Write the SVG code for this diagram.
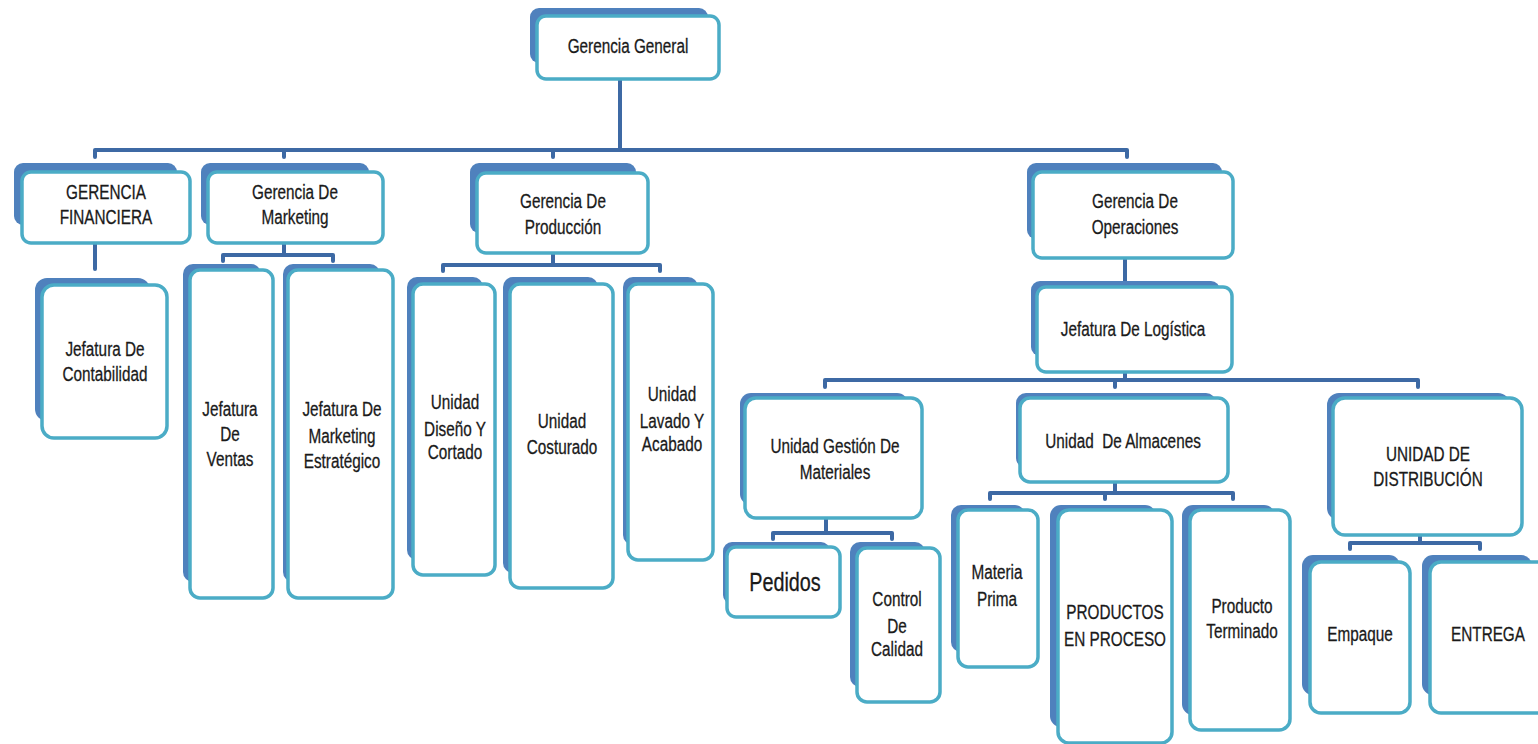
<svg xmlns="http://www.w3.org/2000/svg" width="1538" height="744" viewBox="0 0 1538 744">
<style>
.bk{fill:#4F81BD}
.fr{fill:#fff;stroke:#4BACC6;stroke-width:3.5}
.t{font-family:"Liberation Sans",Arial,sans-serif;font-size:17px;fill:#1a1a1a;stroke:#1a1a1a;stroke-width:0.25;text-anchor:middle;transform-box:fill-box;transform-origin:center;transform:scale(0.9,1.15)}
.big{font-size:22px}
.ln{fill:none;stroke:#3D69A4;stroke-width:4;stroke-linejoin:round;stroke-linecap:round}
</style>
<rect width="1538" height="744" fill="#fff"/>
<g id="connectors">
<path class="ln" d="M620 80 V150 M95 157 V150 H1127 V157 M284 150 V157 M553 150 V157"/>
<path class="ln" d="M95 243 V269"/>
<path class="ln" d="M284 243 V255 M223 261 V255 H333 V261"/>
<path class="ln" d="M553 253 V265 M443 271 V265 H660 V271"/>
<path class="ln" d="M1125 258 V282"/>
<path class="ln" d="M1125 372 V380 M825 387 V380 H1418 V387 M1115 380 V387"/>
<path class="ln" d="M826 518 V533 M773 539 V533 H892 V539"/>
<path class="ln" d="M1115 482 V493 M990 499 V493 H1233 V499 M1105 493 V499"/>
<path class="ln" d="M1420 535 V543 M1350 549 V543 H1480 V549"/>
</g>
<g id="gg"><rect class="bk" x="530" y="8" width="178" height="55" rx="9"/><rect class="fr" x="537" y="16" width="182" height="63" rx="9"/><text class="t" x="628" y="52">Gerencia General</text></g>
<g id="fin"><rect class="bk" x="14" y="163" width="163" height="62" rx="9"/><rect class="fr" x="22" y="172" width="168" height="71" rx="9"/><text class="t" x="106" y="198">GERENCIA</text><text class="t" x="106" y="223">FINANCIERA</text></g>
<g id="mkt"><rect class="bk" x="201" y="163" width="168" height="62" rx="9"/><rect class="fr" x="208" y="172" width="175" height="71" rx="9"/><text class="t" x="295" y="198">Gerencia De</text><text class="t" x="295" y="223">Marketing</text></g>
<g id="prod"><rect class="bk" x="470" y="163" width="166" height="70" rx="9"/><rect class="fr" x="477" y="173" width="171" height="80" rx="9"/><text class="t" x="563" y="207">Gerencia De</text><text class="t" x="563" y="233">Producción</text></g>
<g id="ops"><rect class="bk" x="1027" y="163" width="195" height="76" rx="9"/><rect class="fr" x="1033" y="172" width="200" height="86" rx="9"/><text class="t" x="1135" y="207">Gerencia De</text><text class="t" x="1135" y="233">Operaciones</text></g>
<g id="cont"><rect class="bk" x="35" y="278" width="115" height="143" rx="12"/><rect class="fr" x="42" y="285" width="125" height="153" rx="12"/><text class="t" x="105" y="355">Jefatura De</text><text class="t" x="105" y="380">Contabilidad</text></g>
<g id="ventas"><rect class="bk" x="183" y="264" width="78" height="318" rx="10"/><rect class="fr" x="190" y="270" width="83" height="328" rx="10"/><text class="t" x="230" y="415">Jefatura</text><text class="t" x="230" y="440">De</text><text class="t" x="230" y="465">Ventas</text></g>
<g id="mktest"><rect class="bk" x="283" y="264" width="97" height="318" rx="10"/><rect class="fr" x="288" y="270" width="105" height="328" rx="10"/><text class="t" x="342" y="415">Jefatura De</text><text class="t" x="342" y="442">Marketing</text><text class="t" x="342" y="467">Estratégico</text></g>
<g id="diseno"><rect class="bk" x="407" y="277" width="76" height="283" rx="10"/><rect class="fr" x="413" y="284" width="82" height="291" rx="10"/><text class="t" x="455" y="408">Unidad</text><text class="t" x="455" y="435">Diseño Y</text><text class="t" x="455" y="458">Cortado</text></g>
<g id="costurado"><rect class="bk" x="503" y="277" width="95" height="296" rx="10"/><rect class="fr" x="510" y="284" width="103" height="304" rx="10"/><text class="t" x="562" y="427">Unidad</text><text class="t" x="562" y="453">Costurado</text></g>
<g id="lavado"><rect class="bk" x="623" y="277" width="75" height="268" rx="10"/><rect class="fr" x="628" y="284" width="85" height="276" rx="10"/><text class="t" x="672" y="400">Unidad</text><text class="t" x="672" y="427">Lavado Y</text><text class="t" x="672" y="450">Acabado</text></g>
<g id="log"><rect class="bk" x="1031" y="281" width="189" height="75" rx="9"/><rect class="fr" x="1037" y="287" width="195" height="85" rx="9"/><text class="t" x="1133" y="335">Jefatura De Logística</text></g>
<g id="gestion"><rect class="bk" x="740" y="393" width="168" height="112" rx="11"/><rect class="fr" x="745" y="398" width="177" height="120" rx="11"/><text class="t" x="835" y="452">Unidad Gestión De</text><text class="t" x="835" y="478">Materiales</text></g>
<g id="almacenes"><rect class="bk" x="1016" y="393" width="200" height="75" rx="10"/><rect class="fr" x="1020" y="398" width="208" height="84" rx="10"/><text class="t" x="1123" y="447" xml:space="preserve">Unidad  De Almacenes</text></g>
<g id="distribucion"><rect class="bk" x="1327" y="393" width="183" height="127" rx="12"/><rect class="fr" x="1333" y="398" width="189" height="137" rx="12"/><text class="t" x="1428" y="460">UNIDAD DE</text><text class="t" x="1428" y="485">DISTRIBUCIÓN</text></g>
<g id="pedidos"><rect class="bk" x="723" y="542" width="107" height="62" rx="9"/><rect class="fr" x="727" y="547" width="113" height="70" rx="9"/><text class="t big" x="785" y="590">Pedidos</text></g>
<g id="calidad"><rect class="bk" x="850" y="542" width="75" height="145" rx="10"/><rect class="fr" x="857" y="548" width="83" height="154" rx="10"/><text class="t" x="897" y="605">Control</text><text class="t" x="897" y="632">De</text><text class="t" x="897" y="655">Calidad</text></g>
<g id="materia"><rect class="bk" x="951" y="505" width="74" height="147" rx="10"/><rect class="fr" x="958" y="510" width="80" height="157" rx="10"/><text class="t" x="997" y="578">Materia</text><text class="t" x="997" y="605">Prima</text></g>
<g id="productos"><rect class="bk" x="1050" y="505" width="106" height="222" rx="11"/><rect class="fr" x="1058" y="510" width="114" height="233" rx="11"/><text class="t" x="1115" y="618">PRODUCTOS</text><text class="t" x="1115" y="645">EN PROCESO</text></g>
<g id="terminado"><rect class="bk" x="1182" y="505" width="93" height="210" rx="11"/><rect class="fr" x="1190" y="510" width="100" height="220" rx="11"/><text class="t" x="1242" y="612">Producto</text><text class="t" x="1242" y="637">Terminado</text></g>
<g id="empaque"><rect class="bk" x="1302" y="555" width="98" height="140" rx="11"/><rect class="fr" x="1310" y="562" width="100" height="151" rx="11"/><text class="t" x="1360" y="640">Empaque</text></g>
<g id="entrega"><rect class="bk" x="1422" y="555" width="110" height="140" rx="11"/><rect class="fr" x="1430" y="562" width="118" height="151" rx="11"/><text class="t" x="1488" y="640">ENTREGA</text></g>
</svg>
